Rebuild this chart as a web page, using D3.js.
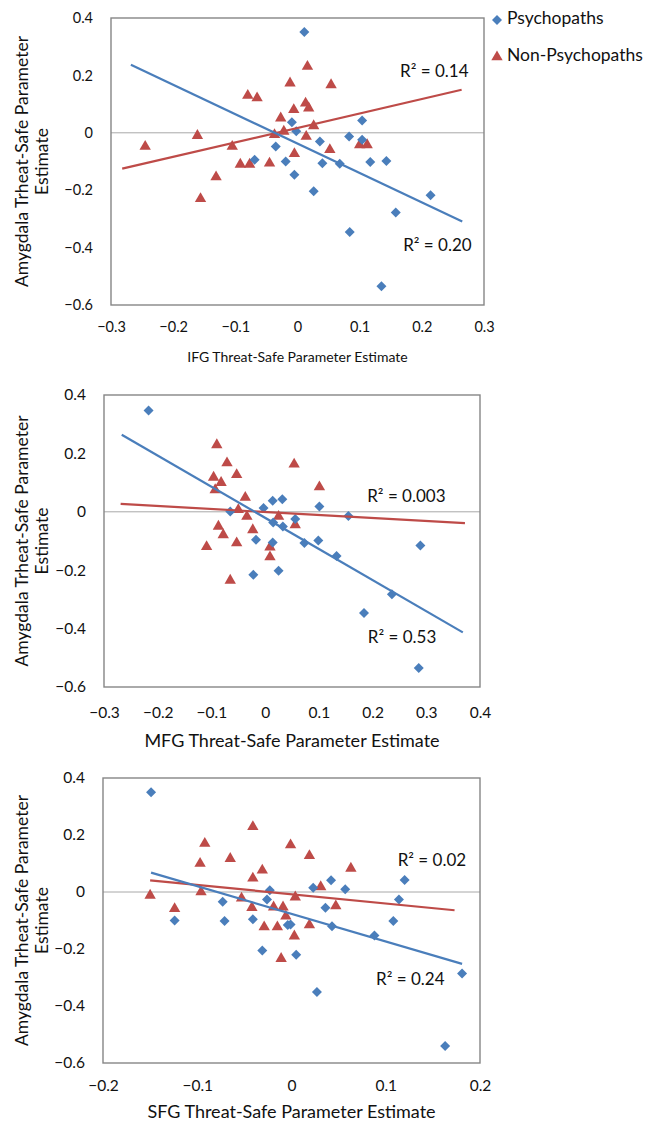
<!DOCTYPE html>
<html>
<head>
<meta charset="utf-8">
<script src="https://cdn.jsdelivr.net/npm/d3@7"></script>
<style>
  body { margin: 0; background: #fff; }
  text { font-family: Lato, "Open Sans", sans-serif; fill: #111; }
</style>
</head>
<body>
<div id="chart"></div>
<script>
// ---- data ----
const yTicks = [-0.6, -0.4, -0.2, 0, 0.2, 0.4];
const ifgTicks = [-0.3, -0.2, -0.1, 0, 0.1, 0.2, 0.3];
const mfgTicks = [-0.3, -0.2, -0.1, 0, 0.1, 0.2, 0.3, 0.4];
const sfgTicks = [-0.2, -0.1, 0, 0.1, 0.2];
const seriesNames = ["Psychopaths", "Non-Psychopaths"];

const ifgPsy = [[0.011,0.351],[-0.009,0.037],[-0.002,0.005],[-0.035,-0.048],[-0.069,-0.094],
  [-0.019,-0.10],[0.104,0.043],[0.036,-0.03],[0.083,-0.013],[0.104,-0.024],[0.04,-0.106],
  [0.068,-0.108],[0.117,-0.102],[0.143,-0.098],[-0.005,-0.146],[0.026,-0.204],[0.084,-0.346],
  [0.158,-0.278],[0.214,-0.218],[0.135,-0.535]];
const ifgNon = [[-0.245,-0.048],[-0.161,-0.01],[-0.105,-0.048],[-0.080,0.13],[-0.065,0.121],
  [-0.012,0.173],[-0.006,0.08],[-0.027,0.051],[-0.037,-0.007],[-0.022,0.005],[-0.005,-0.073],
  [-0.092,-0.11],[-0.077,-0.11],[-0.045,-0.106],[0.016,0.231],[0.054,0.167],[0.013,0.103],
  [0.018,0.086],[0.026,0.024],[0.014,-0.013],[0.1,-0.042],[0.112,-0.042],[0.052,-0.059],
  [-0.156,-0.23],[-0.131,-0.154]];
const ifgFitPsy = [[-0.268,0.237],[0.265,-0.309]];
const ifgFitNon = [[-0.282,-0.125],[0.264,0.15]];
const ifgR2 = ["R² = 0.20", "R² = 0.14"];

const mfgPsy = [[-0.217,0.347],[0.014,0.038],[0.032,0.043],[-0.065,0.001],[-0.003,0.013],
  [0.015,-0.037],[0.033,-0.05],[-0.017,-0.096],[0.014,-0.105],[0.101,0.018],[0.155,-0.014],
  [0.056,-0.025],[0.073,-0.107],[0.099,-0.098],[0.289,-0.115],[-0.022,-0.216],[0.025,-0.202],
  [0.133,-0.151],[0.236,-0.282],[0.184,-0.347],[0.286,-0.535]];
const mfgNon = [[-0.09,0.229],[-0.071,0.167],[-0.096,0.118],[-0.082,0.1],[-0.053,0.127],
  [-0.093,0.075],[0.054,0.163],[-0.037,0.049],[-0.05,0.007],[-0.034,-0.016],[0.025,-0.016],
  [0.056,-0.045],[-0.087,-0.05],[-0.078,-0.079],[-0.023,-0.062],[-0.109,-0.12],[-0.053,-0.107],
  [0.009,-0.121],[0.009,-0.155],[-0.065,-0.235],[0.101,0.085]];
const mfgFitPsy = [[-0.267,0.264],[0.368,-0.413]];
const mfgFitNon = [[-0.269,0.027],[0.372,-0.039]];
const mfgR2 = ["R² = 0.53", "R² = 0.003"];

const sfgPsy = [[-0.149,0.35],[-0.023,0.006],[-0.026,-0.026],[-0.073,-0.034],[-0.124,-0.1],
  [-0.071,-0.102],[-0.041,-0.096],[-0.004,-0.116],[-0.001,-0.114],[-0.031,-0.205],[0.12,0.042],
  [0.042,0.041],[0.023,0.015],[0.057,0.01],[0.114,-0.026],[0.036,-0.055],[0.108,-0.102],
  [0.043,-0.12],[0.088,-0.153],[0.005,-0.22],[0.027,-0.351],[0.181,-0.286],[0.163,-0.54]];
const sfgNon = [[-0.041,0.229],[-0.092,0.17],[-0.001,0.165],[-0.097,0.1],[-0.065,0.117],
  [-0.031,0.076],[-0.041,0.048],[-0.15,-0.012],[-0.096,0.0],[-0.053,-0.022],[0.004,-0.018],
  [-0.124,-0.059],[-0.042,-0.055],[-0.019,-0.053],[-0.009,-0.053],[-0.006,-0.085],
  [-0.029,-0.123],[-0.015,-0.123],[0.003,-0.155],[0.019,0.127],[0.063,0.083],[0.031,0.018],
  [0.047,-0.049],[0.019,-0.116],[-0.011,-0.234]];
const sfgFitPsy = [[-0.149,0.068],[0.181,-0.252]];
const sfgFitNon = [[-0.15,0.041],[0.173,-0.064]];
const sfgR2 = ["R² = 0.24", "R² = 0.02"];

// ---- layout ----
const W = 647, H = 1123;
const blue = "#4a7ebb", red = "#be4b48";

const panels = [
  {left: 111, right: 484, top: 18, bottom: 305, xDomain: [-0.3, 0.3], xTicks: ifgTicks,
   title: "IFG Threat-Safe Parameter Estimate", titleSize: 14, tickSize: 14.5, titleY: 358, tickGap: 25,
   psy: ifgPsy, non: ifgNon, fitPsy: ifgFitPsy, fitNon: ifgFitNon, r2: ifgR2,
   r2Pos: [[0.225, -0.397], [0.22, 0.209]]},
  {left: 104, right: 480, top: 395, bottom: 687, xDomain: [-0.3, 0.4], xTicks: mfgTicks,
   title: "MFG Threat-Safe Parameter Estimate", titleSize: 18, tickSize: 15.5, titleY: 742, tickGap: 28,
   psy: mfgPsy, non: mfgNon, fitPsy: mfgFitPsy, fitNon: mfgFitNon, r2: mfgR2,
   r2Pos: [[0.255, -0.435], [0.263, 0.048]]},
  {left: 103, right: 480, top: 778, bottom: 1063, xDomain: [-0.2, 0.2], xTicks: sfgTicks,
   title: "SFG Threat-Safe Parameter Estimate", titleSize: 18, tickSize: 15.5, titleY: 1113, tickGap: 25,
   psy: sfgPsy, non: sfgNon, fitPsy: sfgFitPsy, fitNon: sfgFitNon, r2: sfgR2,
   r2Pos: [[0.126, -0.31], [0.149, 0.106]]}
];

const svg = d3.select("#chart").append("svg")
    .attr("width", W)
    .attr("height", H);
svg.append("rect").attr("width", W).attr("height", H).attr("fill", "#fff");

const fmt = d => d === 0 ? "0" : d3.format(".1f")(d);
const diamond = d3.symbol().type(d3.symbolSquare).size(50);
const triangle = d3.symbol().type(d3.symbolTriangle).size(56);

function drawPanel(p) {
    const x = d3.scaleLinear().domain(p.xDomain).range([p.left, p.right]);
    const y = d3.scaleLinear().domain([-0.6, 0.4]).range([p.bottom, p.top]);
    const g = svg.append("g");

    // zero line
    g.append("line")
        .attr("x1", p.left).attr("x2", p.right)
        .attr("y1", y(0)).attr("y2", y(0))
        .attr("stroke", "#a8a8a8").attr("stroke-width", 1);

    // plot frame
    g.append("rect")
        .attr("x", p.left).attr("y", p.top)
        .attr("width", p.right - p.left).attr("height", p.bottom - p.top)
        .attr("fill", "none").attr("stroke", "#868686").attr("stroke-width", 1.4);

    // axes (labels only)
    const xa = g.append("g")
        .attr("transform", `translate(0,${p.bottom})`)
        .call(d3.axisBottom(x).tickValues(p.xTicks).tickFormat(fmt).tickSize(0).tickPadding(p.tickGap - 8));
    const ya = g.append("g")
        .attr("transform", `translate(${p.left},0)`)
        .call(d3.axisLeft(y).tickValues(yTicks).tickFormat(fmt).tickSize(0).tickPadding(18));
    [xa, ya].forEach(a => {
        a.select(".domain").remove();
        a.selectAll("text").style("font-family", "Lato, sans-serif")
            .style("font-size", p.tickSize + "px").attr("fill", "#111");
    });

    // axis titles
    g.append("text")
        .attr("x", (p.left + p.right) / 2).attr("y", p.titleY)
        .attr("text-anchor", "middle").attr("dominant-baseline", "middle")
        .style("font-size", p.titleSize + "px")
        .text(p.title);
    const yt = g.append("text")
        .attr("transform", `translate(22,${(p.top + p.bottom) / 2}) rotate(-90)`)
        .attr("text-anchor", "middle")
        .style("font-size", "17.5px");
    yt.append("tspan").attr("x", 0).attr("dy", "0.35em").text("Amygdala Trheat-Safe Parameter");
    yt.append("tspan").attr("x", 0).attr("dy", "20").text("Estimate");

    // markers
    g.selectAll(".non").data(p.non).enter().append("path")
        .attr("d", triangle)
        .attr("transform", d => `translate(${x(d[0])},${y(d[1])})`)
        .attr("fill", red);
    g.selectAll(".psy").data(p.psy).enter().append("path")
        .attr("d", diamond)
        .attr("transform", d => `translate(${x(d[0])},${y(d[1])}) rotate(45)`)
        .attr("fill", blue);

    // trend lines
    const line = d3.line().x(d => x(d[0])).y(d => y(d[1]));
    g.append("path").datum(p.fitNon).attr("d", line)
        .attr("stroke", red).attr("stroke-width", 2.2).attr("fill", "none");
    g.append("path").datum(p.fitPsy).attr("d", line)
        .attr("stroke", blue).attr("stroke-width", 2.2).attr("fill", "none");

    // R² labels
    p.r2.forEach((t, i) => {
        g.append("text")
            .attr("x", x(p.r2Pos[i][0])).attr("y", y(p.r2Pos[i][1]))
            .attr("text-anchor", "middle").attr("dominant-baseline", "middle")
            .style("font-size", "17px")
            .text(t);
    });
}

panels.forEach(drawPanel);

// legend
const lg = svg.append("g");
lg.append("path").attr("d", diamond).attr("fill", blue)
    .attr("transform", "translate(497,20) rotate(45)");
lg.append("path").attr("d", triangle).attr("fill", red)
    .attr("transform", "translate(497,57)");
lg.selectAll(".lt").data(seriesNames).enter().append("text")
    .attr("x", 507).attr("y", (d, i) => 20 + i * 37)
    .attr("dominant-baseline", "middle")
    .style("font-size", "17.5px")
    .text(d => d);
</script>
</body>
</html>
